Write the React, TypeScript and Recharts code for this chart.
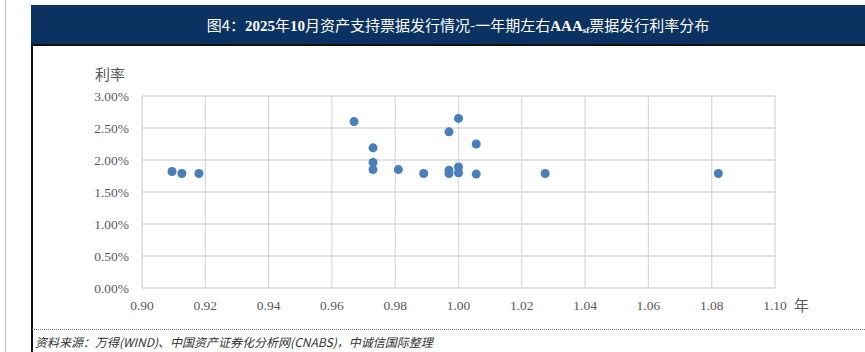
import { ScatterChart, Scatter, XAxis, YAxis, ZAxis, CartesianGrid } from "recharts";

// 期限（年）
const terms = [
  0.9095, 0.9126, 0.918, 0.967, 0.973, 0.973, 0.973, 0.981, 0.989, 0.997,
  0.997, 0.997, 1.0, 1.0, 1.0, 1.0056, 1.0056, 1.0274, 1.0821,
];
// 发行利率（%）
const rates = [
  1.82, 1.79, 1.79, 2.6, 2.19, 1.96, 1.85, 1.85, 1.79, 2.44,
  1.84, 1.79, 2.65, 1.89, 1.8, 2.25, 1.78, 1.79, 1.79,
];
const xTicks = [0.9, 0.92, 0.94, 0.96, 0.98, 1.0, 1.02, 1.04, 1.06, 1.08, 1.1];
const yTicks = [0, 0.5, 1, 1.5, 2, 2.5, 3];

const points = terms.map((t, i) => ({ term: t, rate: rates[i] }));

const serif = "'Liberation Serif', 'Noto Sans CJK SC', serif";
const cjk = "'Noto Sans CJK SC', sans-serif";

export default function App() {
  return (
    <div style={{ position: "fixed", left: 0, top: 0, width: 865, height: 352, background: "#fff", overflow: "hidden" }}>
      {/* outer page line */}
      <div style={{ position: "absolute", left: 5, top: 0, width: 1, height: 352, background: "#bfbfbf" }} />
      {/* title band */}
      <div
        style={{
          position: "absolute", left: 31, top: 5, width: 834, height: 39, background: "#0b3261",
          color: "#fff", fontFamily: cjk, fontSize: 15, display: "flex", alignItems: "center", justifyContent: "center",
          paddingLeft: 20, boxSizing: "border-box",
        }}
      >
        <span>
          图4：<b style={{ fontFamily: serif }}>2025</b>年<b style={{ fontFamily: serif }}>10</b>月资产支持票据发行情况-一年期左右
          <b style={{ fontFamily: serif }}>AAA</b>
          <sub style={{ fontFamily: serif, fontSize: 9, fontWeight: "bold", verticalAlign: "-2px" }}>sf</sub>票据发行利率分布
        </span>
      </div>
      <div style={{ position: "absolute", left: 31, top: 44, width: 834, height: 2, background: "#111" }} />
      <div style={{ position: "absolute", left: 31, top: 44, width: 1.5, height: 308, background: "#111" }} />
      {/* dotted separator */}
      <div style={{ position: "absolute", left: 32, top: 329, width: 833, height: 0, borderTop: "1px dotted #777" }} />
      <div
        style={{
          position: "absolute", left: 35, top: 333, fontFamily: cjk, fontStyle: "italic", fontSize: 12,
          color: "#333", whiteSpace: "nowrap",
        }}
      >
        资料来源：万得(WIND)、中国资产证券化分析网(CNABS)，中诚信国际整理
      </div>
      {/* axis titles */}
      <div style={{ position: "absolute", left: 95, top: 63, fontFamily: cjk, fontSize: 15, color: "#595959" }}>利率</div>
      <div style={{ position: "absolute", left: 794, top: 294, fontFamily: cjk, fontSize: 15, color: "#595959" }}>年</div>

      <div style={{ position: "absolute", left: 0, top: 0 }}>
        <ScatterChart width={865} height={352} margin={{ top: 96, right: 90, bottom: 34, left: 82 }}>
          <CartesianGrid stroke="#d9d9d9" strokeWidth={1.3} />
          <XAxis
            type="number"
            dataKey="term"
            domain={[0.9, 1.1]}
            ticks={xTicks}
            tickFormatter={(v: number) => v.toFixed(2)}
            axisLine={false}
            tickLine={false}
            height={30}
            tickMargin={6}
            tick={{ fill: "#595959", fontSize: 13.5, fontFamily: serif }}
          />
          <YAxis
            type="number"
            dataKey="rate"
            domain={[0, 3]}
            ticks={yTicks}
            tickFormatter={(v: number) => v.toFixed(2) + "%"}
            axisLine={false}
            tickLine={false}
            width={60}
            tickMargin={7}
            tick={{ fill: "#595959", fontSize: 13.5, fontFamily: serif }}
          />
          <ZAxis range={[72, 72]} />
          <Scatter data={points} fill="#4a7ebb" isAnimationActive={false} />
        </ScatterChart>
      </div>
    </div>
  );
}
